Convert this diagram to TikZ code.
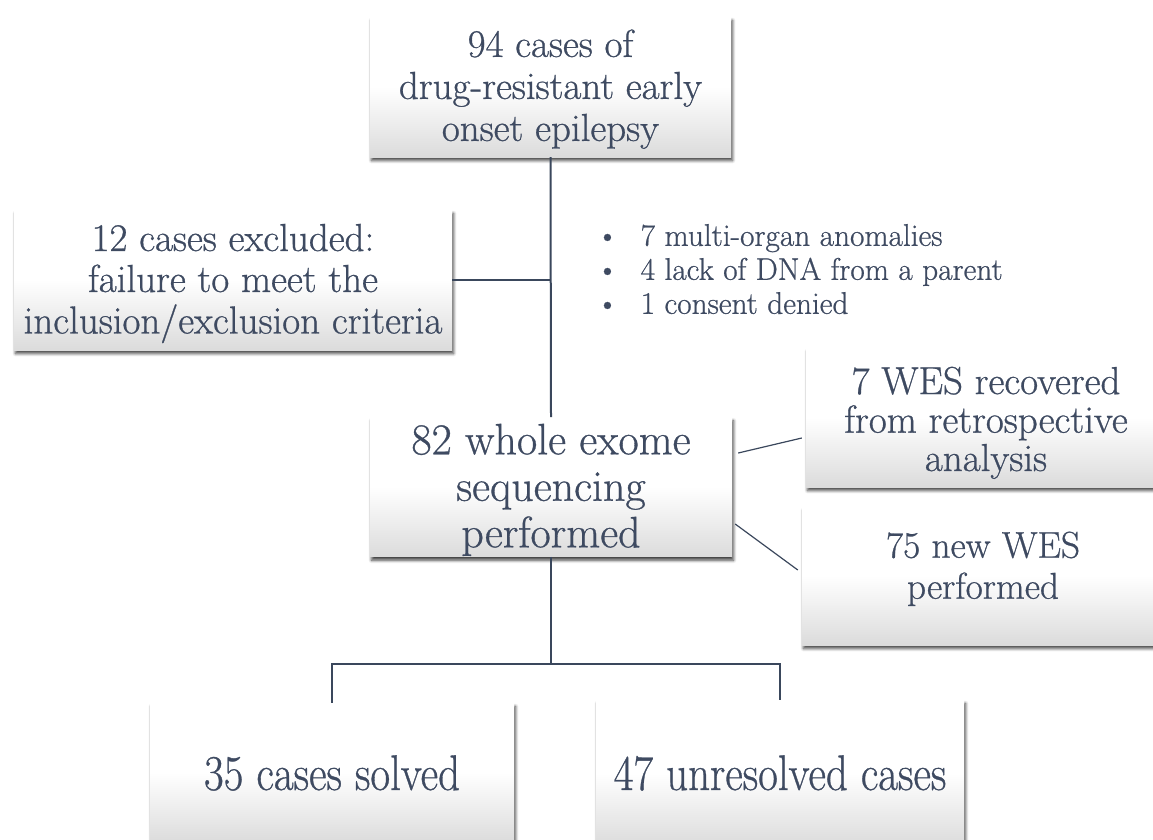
\documentclass[tikz,border=0pt]{standalone}
\usepackage{fontspec}
\setmainfont{Latin Modern Roman}[FakeBold=0.7]
\usetikzlibrary{shadows.blur,calc}
\definecolor{txt}{HTML}{3E4A61}
\definecolor{ln}{HTML}{3A475C}
\newcommand{\rb}[2]{\raisebox{#1}[\height][\depth]{\begin{tabular}{@{}c@{}}#2\end{tabular}}}
\tikzset{
 box/.style={rectangle, inner sep=0pt, top color=white, bottom color=black!14, middle color=white,
   blur shadow={shadow xshift=1.5pt, shadow yshift=-3.5pt, shadow blur steps=6, shadow opacity=75, shadow blur radius=3pt},
   text=txt, align=center},
 conn/.style={draw=ln, line width=2pt},
 thinconn/.style={draw=ln, line width=1.2pt},
}
\begin{document}
\begin{tikzpicture}[x=1pt,y=-1pt]
\useasboundingbox (0,0) rectangle (1153,839);
\clip (0,0) rectangle (1153,839);

\node[box, font=\fontsize{39}{42}\selectfont, minimum width=361pt, minimum height=140pt] (top) at (550.5,87)
 {\rb{-3.5pt}{94 cases of\\drug-resistant early\\onset epilepsy}};
\node[box, font=\fontsize{39}{41}\selectfont, minimum width=438pt, minimum height=140pt] (excl) at (233,280)
 {\rb{-4pt}{12 cases excluded:\\failure to meet the\\inclusion/exclusion criteria}};
\node[box, font=\fontsize{44}{46.5}\selectfont, minimum width=362pt, minimum height=138pt] (wes) at (551,487)
 {\rb{-4.5pt}{82 whole exome\\sequencing\\performed}};
\node[box, font=\fontsize{39}{37.5}\selectfont, minimum width=360pt, minimum height=139pt] (retro) at (986,417.5)
 {\rb{-7pt}{7 WES recovered\\from retrospective\\analysis}};
\node[box, font=\fontsize{37.3}{41}\selectfont, minimum width=362pt, minimum height=138pt] (new) at (983,576)
 {\rb{6pt}{75 new WES\\performed}};
\node[box, minimum width=364pt, minimum height=140pt] (solved) at (332,773)
 {\scalebox{0.86}[1]{\fontsize{50}{60}\selectfont 35 cases solved}};
\node[box, minimum width=368pt, minimum height=146pt] (unres) at (780,773)
 {\scalebox{0.86}[1]{\fontsize{50}{60}\selectfont 47 unresolved cases}};

\node[anchor=west, text=txt, inner sep=0pt, font=\fontsize{31.3}{34}\selectfont, align=left] (bul) at (596,273)
 {\begin{tabular}{@{}l@{\hspace{22pt}}l@{}}\textbullet & 7 multi-organ anomalies\\ \textbullet & 4 lack of DNA from a parent\\ \textbullet & 1 consent denied\end{tabular}};

% connectors
\draw[conn] (top.south) -- (wes.north);
\draw[conn] (excl.east) -- (excl.east -| top.south);
\coordinate (split) at ($(wes.south)+(0,107)$);
\draw[conn] (wes.south) -- (split);
\draw[conn] (split) -| (solved.north);
\draw[conn] (split) -| (unres.north);
\coordinate (a1) at ($(wes.east)+(6,-34)$);
\coordinate (a2) at ($(retro.west)+(-4,20.5)$);
\coordinate (b1) at ($(wes.east)+(3,37)$);
\coordinate (b2) at ($(new.west)+(-4,-6)$);
\draw[thinconn] (a1) -- (a2);
\draw[thinconn] (b1) -- (b2);
\end{tikzpicture}
\end{document}
